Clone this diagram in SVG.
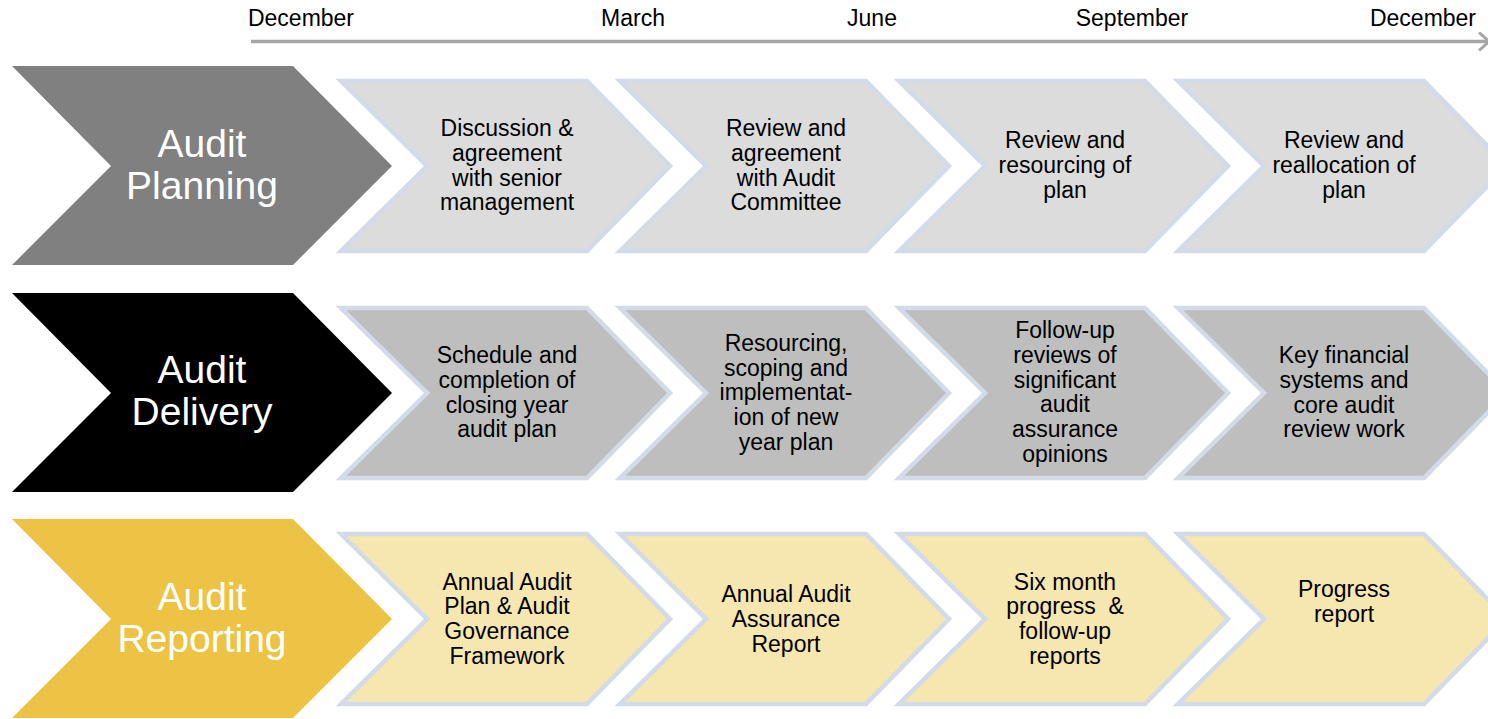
<svg xmlns="http://www.w3.org/2000/svg" width="1488" height="719" viewBox="0 0 1488 719">
<defs>
<style>
.month{font-family:"Liberation Sans",Arial,sans-serif;font-size:23px;fill:#000;text-anchor:middle}
.head{font-family:"Liberation Sans",Arial,sans-serif;font-size:39px;fill:#fff;text-anchor:middle}
.step{font-family:"Liberation Sans",Arial,sans-serif;font-size:23px;fill:#000;text-anchor:middle}
.s1{fill:#dcdcdc;stroke:#d3dae8;stroke-width:4.5}
.s2{fill:#bebebe;stroke:#d3dae8;stroke-width:4.5}
.s3{fill:#f6e6b0;stroke:#d3dae8;stroke-width:4.5}
</style>
<marker id="arr" viewBox="0 0 12 20" refX="11" refY="10" markerWidth="12" markerHeight="20" markerUnits="userSpaceOnUse" orient="auto">
<path d="M1,1 L11,10 L1,19" fill="none" stroke="#a6a6a6" stroke-width="3"/>
</marker>
<path id="hd" d="M12,0 L293,0 L392,100 L293,199 L12,199 L111,100 Z"/>
<path id="st" d="M2,2 L248,2 L331,87 L248,172 L2,172 L88,87 Z"/>
</defs>

<g id="timeline">
<text class="month" x="301" y="26">December</text>
<text class="month" x="633" y="26">March</text>
<text class="month" x="872" y="26">June</text>
<text class="month" x="1132" y="26">September</text>
<text class="month" x="1423" y="26">December</text>
</g>
<g id="connectors">
<line x1="251" y1="41.5" x2="1489" y2="41.5" stroke="#a6a6a6" stroke-width="3.5" marker-end="url(#arr)"/>
</g>

<g id="audit-planning">
<use href="#hd" y="66" fill="#808080"/>
<text class="head" x="202" y="157">Audit</text>
<text class="head" x="202" y="199">Planning</text>
</g>
<g id="planning-1">
<use href="#st" x="339" y="79" class="s1"/>
<text class="step" x="507"><tspan x="507" y="136">Discussion &amp;</tspan><tspan x="507" y="161">agreement</tspan><tspan x="507" y="186">with senior</tspan><tspan x="507" y="210">management</tspan></text>
</g>
<g id="planning-2">
<use href="#st" x="618" y="79" class="s1"/>
<text class="step"><tspan x="786" y="136">Review and</tspan><tspan x="786" y="161">agreement</tspan><tspan x="786" y="186">with Audit</tspan><tspan x="786" y="210">Committee</tspan></text>
</g>
<g id="planning-3">
<use href="#st" x="897" y="79" class="s1"/>
<text class="step"><tspan x="1065" y="148">Review and</tspan><tspan x="1065" y="173">resourcing of</tspan><tspan x="1065" y="198">plan</tspan></text>
</g>
<g id="planning-4">
<use href="#st" x="1176" y="79" class="s1"/>
<text class="step"><tspan x="1344" y="148">Review and</tspan><tspan x="1344" y="173">reallocation of</tspan><tspan x="1344" y="198">plan</tspan></text>
</g>

<g id="audit-delivery">
<use href="#hd" y="293" fill="#000000"/>
<text class="head" x="202" y="383">Audit</text>
<text class="head" x="202" y="425">Delivery</text>
</g>
<g id="delivery-1">
<use href="#st" x="339" y="306" class="s2"/>
<text class="step"><tspan x="507" y="363">Schedule and</tspan><tspan x="507" y="388">completion of</tspan><tspan x="507" y="413">closing year</tspan><tspan x="507" y="437">audit plan</tspan></text>
</g>
<g id="delivery-2">
<use href="#st" x="618" y="306" class="s2"/>
<text class="step"><tspan x="786" y="351">Resourcing,</tspan><tspan x="786" y="376">scoping and</tspan><tspan x="786" y="400">implementat-</tspan><tspan x="786" y="425">ion of new</tspan><tspan x="786" y="450">year plan</tspan></text>
</g>
<g id="delivery-3">
<use href="#st" x="897" y="306" class="s2"/>
<text class="step"><tspan x="1065" y="338">Follow-up</tspan><tspan x="1065" y="363">reviews of</tspan><tspan x="1065" y="388">significant</tspan><tspan x="1065" y="412">audit</tspan><tspan x="1065" y="437">assurance</tspan><tspan x="1065" y="462">opinions</tspan></text>
</g>
<g id="delivery-4">
<use href="#st" x="1176" y="306" class="s2"/>
<text class="step"><tspan x="1344" y="363">Key financial</tspan><tspan x="1344" y="388">systems and</tspan><tspan x="1344" y="413">core audit</tspan><tspan x="1344" y="437">review work</tspan></text>
</g>

<g id="audit-reporting">
<use href="#hd" y="519" fill="#ecc344"/>
<text class="head" x="202" y="610">Audit</text>
<text class="head" x="202" y="652">Reporting</text>
</g>
<g id="reporting-1">
<use href="#st" x="339" y="532" class="s3"/>
<text class="step"><tspan x="507" y="590">Annual Audit</tspan><tspan x="507" y="614">Plan &amp; Audit</tspan><tspan x="507" y="639">Governance</tspan><tspan x="507" y="664">Framework</tspan></text>
</g>
<g id="reporting-2">
<use href="#st" x="618" y="532" class="s3"/>
<text class="step"><tspan x="786" y="602">Annual Audit</tspan><tspan x="786" y="627">Assurance</tspan><tspan x="786" y="652">Report</tspan></text>
</g>
<g id="reporting-3">
<use href="#st" x="897" y="532" class="s3"/>
<text class="step"><tspan x="1065" y="590">Six month</tspan><tspan x="1065" y="614" xml:space="preserve">progress  &amp;</tspan><tspan x="1065" y="639">follow-up</tspan><tspan x="1065" y="664">reports</tspan></text>
</g>
<g id="reporting-4">
<use href="#st" x="1176" y="532" class="s3"/>
<text class="step"><tspan x="1344" y="597">Progress</tspan><tspan x="1344" y="622">report</tspan></text>
</g>
</svg>
